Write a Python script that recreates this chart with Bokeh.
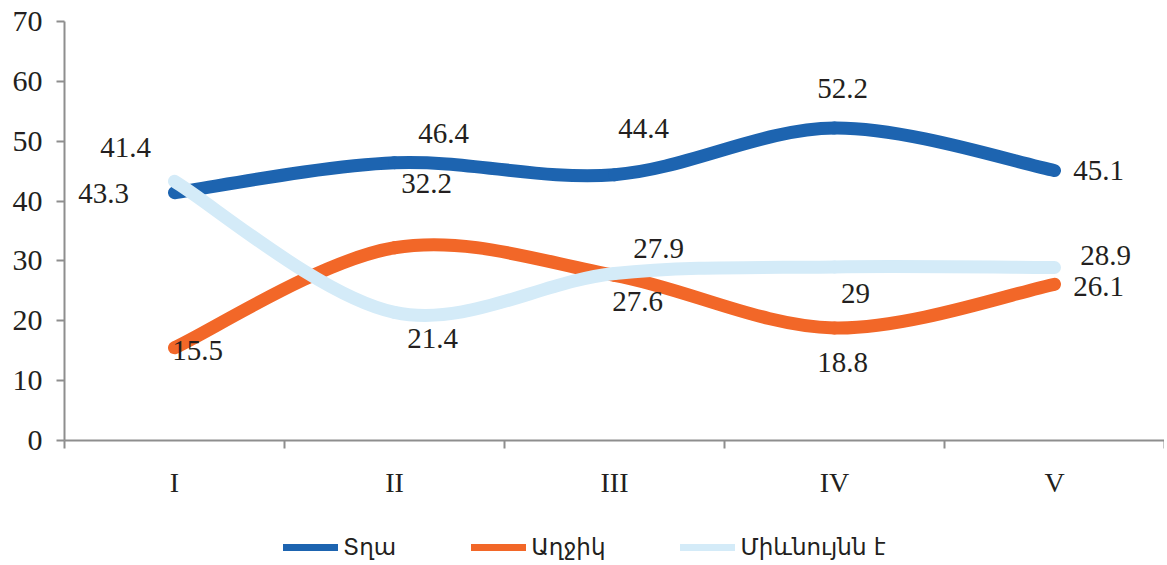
from bokeh.plotting import figure
from bokeh.layouts import column
from bokeh.models import Range1d, FixedTicker, Legend, LegendItem, ColumnDataSource
from bokeh.core.properties import value
from bokeh.embed import file_html
from bokeh.resources import INLINE

# ---- data ----
categories = ["I", "II", "III", "IV", "V"]
series_names = ["Տղա", "Աղջիկ", "Միևնույնն է"]
boys = [41.4, 46.4, 44.4, 52.2, 45.1]
girls = [15.5, 32.2, 27.6, 18.8, 26.1]
same = [43.3, 21.4, 27.9, 29, 28.9]
y_ticks = [0, 10, 20, 30, 40, 50, 60, 70]

# ---- layout / style ----
colors = ["#1D64B0", "#F26728", "#D4EBF8"]
label_offsets = [
    [(-49, -45), (49, -29), (29, -46), (8, -40), (44, 0)],
    [(23, 3), (32, -64), (23, 26), (8, 35), (44, 2)],
    [(-71, 12), (38, 26), (44, -25), (21, 27), (51, -12)],
]
FONT = "Liberation Serif, DejaVu Serif, serif"
AFONT = "DejaVu Sans, sans-serif"
TXT = "#231F20"
AX = "#8E8E8E"
W = 1164

p = figure(width=W, height=510, output_backend="svg", toolbar_location=None,
           x_range=Range1d(0.5, 5.5), y_range=Range1d(0, 70),
           min_border_left=64, min_border_top=21, min_border_right=0, min_border_bottom=70)
p.outline_line_color = None
p.xgrid.visible = False
p.ygrid.visible = False

xs = list(range(1, len(categories) + 1))


def bezier_source(ys):
    n = len(ys)
    d = dict(x0=[], y0=[], x1=[], y1=[], cx0=[], cy0=[], cx1=[], cy1=[])
    for i in range(n - 1):
        im1 = max(i - 1, 0)
        ip2 = min(i + 2, n - 1)
        d["x0"].append(xs[i]); d["y0"].append(ys[i])
        d["x1"].append(xs[i + 1]); d["y1"].append(ys[i + 1])
        d["cx0"].append(xs[i] + (xs[i + 1] - xs[im1]) / 6)
        d["cy0"].append(ys[i] + (ys[i + 1] - ys[im1]) / 6)
        d["cx1"].append(xs[i + 1] - (xs[ip2] - xs[i]) / 6)
        d["cy1"].append(ys[i + 1] - (ys[ip2] - ys[i]) / 6)
    return ColumnDataSource(d)


all_series = [boys, girls, same]
for ys, c in zip(all_series, colors):
    p.bezier(x0="x0", y0="y0", x1="x1", y1="y1", cx0="cx0", cy0="cy0", cx1="cx1", cy1="cy1",
             source=bezier_source(ys), line_color=c, line_width=13, line_cap="round")

for ys, offs in zip(all_series, label_offsets):
    src = ColumnDataSource(dict(x=xs, y=ys, t=[f"{v:g}" for v in ys],
                                xo=[o[0] for o in offs], yo=[o[1] for o in offs]))
    p.text(x="x", y="y", text="t", source=src, x_offset="xo", y_offset="yo",
           text_align="center", text_baseline="middle", text_color=TXT,
           text_font=value(FONT), text_font_size="29px")

# axes
xa = p.xaxis[0]
xa.ticker = FixedTicker(ticks=xs, minor_ticks=[0.5, 1.5, 2.5, 3.5, 4.5, 5.5])
xa.major_label_overrides = {i: c for i, c in zip(xs, categories)}
xa.major_tick_out = 0
xa.major_tick_in = 0
xa.minor_tick_out = 8
xa.minor_tick_in = 0
xa.minor_tick_line_color = AX
xa.minor_tick_line_width = 2
xa.axis_line_color = AX
xa.axis_line_width = 2
xa.major_label_standoff = 18
xa.major_label_text_font = FONT
xa.major_label_text_font_size = "28px"
xa.major_label_text_color = TXT

ya = p.yaxis[0]
ya.ticker = FixedTicker(ticks=y_ticks)
ya.major_tick_out = 8
ya.major_tick_in = 0
ya.minor_tick_line_color = None
ya.major_tick_line_color = AX
ya.major_tick_line_width = 2
ya.axis_line_color = AX
ya.axis_line_width = 2
ya.major_label_standoff = 14
ya.major_label_text_font = FONT
ya.major_label_text_font_size = "30px"
ya.major_label_text_color = TXT

# legend strip (its renderers hold a point outside the visible range)
lg = figure(width=W, height=53, output_backend="svg", toolbar_location=None,
            x_range=Range1d(0, 1), y_range=Range1d(0, 1), min_border=0)
lg.axis.visible = False
lg.grid.visible = False
lg.outline_line_color = None
items = []
for c, name in zip(colors, series_names):
    r = lg.line(x=[-5, -4], y=[-5, -5], line_color=c, line_width=7, line_cap="round")
    items.append(LegendItem(label=name, renderers=[r]))
legend = Legend(items=items, orientation="horizontal", location=(219, 2),
                glyph_width=55, glyph_height=28, label_standoff=5, spacing=75,
                padding=0, margin=0, border_line_color=None, background_fill_alpha=0,
                label_text_font=AFONT, label_text_font_size="23px", label_text_color=TXT)
lg.add_layout(legend, "center")

layout = column(p, lg, spacing=0)
open("out.html", "w").write(file_html(layout, INLINE))
